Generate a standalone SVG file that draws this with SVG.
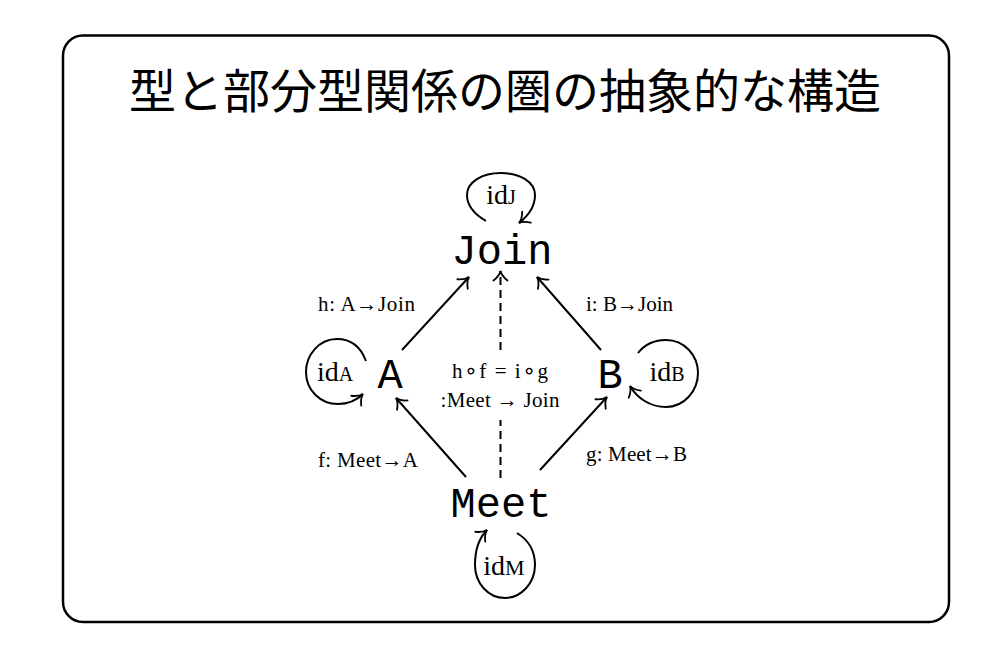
<svg xmlns="http://www.w3.org/2000/svg" width="1000" height="667" viewBox="0 0 1000 667">
<defs>
<marker id="ah" markerUnits="userSpaceOnUse" markerWidth="20" markerHeight="20" viewBox="-12 -10 14 20" refX="0" refY="0" orient="auto">
<path d="M-9.5,-7 C-6,-2.5 -2.5,-0.6 0,0 C-2.5,0.6 -6,2.5 -9.5,7" fill="none" stroke="#000" stroke-width="1.8" stroke-linecap="round"/>
</marker>
<style>
.frame{fill:#fff;stroke:#000;stroke-width:2.5}
.title{font-family:"Noto Sans CJK JP","Noto Sans CJK SC",sans-serif;font-size:47px;fill:#000}
.node{font-family:"Liberation Mono",monospace;font-size:42px;fill:#000}
.lbl{font-family:"Liberation Serif","DejaVu Serif",serif;font-size:21px;fill:#000}
.op{font-family:"DejaVu Sans",sans-serif;font-size:22px}
.id{font-family:"Liberation Serif","DejaVu Serif",serif;font-size:28px;fill:#000}
.sub{font-size:20px}
.edge{fill:none;stroke:#000;stroke-width:2;marker-end:url(#ah)}
.dash{fill:none;stroke:#000;stroke-width:2;stroke-dasharray:8 5}
</style>
</defs>
<rect class="frame" x="63" y="35.5" width="886" height="586.5" rx="20"/>
<text class="title" x="505" y="108" text-anchor="middle">型と部分型関係の圏の抽象的な構造</text>

<g id="connectors">
<path class="edge" d="M402,350 L469,277"/>
<path class="edge" d="M601,350 L537,277"/>
<path class="edge" d="M466,477 L396,398"/>
<path class="edge" d="M540,470 L607,397"/>
<path class="dash" d="M500.5,478 L500.5,420"/>
<path class="dash edge" d="M500.5,350 L500.5,271"/>
<path class="edge" d="M486,221 C474,214 467,205 467,195 C467,182 482,173 501,173 C520,173 535,182 535,195 C535,206 528,216 519,223"/>
<path class="edge" d="M366,361 C360,345 349,339 337,339 C319,339 306,355 306,372 C306,390 320,404 338,404 C349,404 357,400 363,394"/>
<path class="edge" d="M638,353 C645,344 656,340 666,340 C684,340 698,355 698,373 C698,391 684,407 666,407 C650,407 637,398 630,386"/>
<path class="edge" d="M517,533 C530,541 535,553 535,565 C535,583 521,598 505,598 C488,598 475,583 475,565 C475,549 480,537 487,530"/>
</g>

<g id="edge-labels">
<text class="lbl" x="318" y="311" textLength="97" lengthAdjust="spacing">h: A→Join</text>
<text class="lbl" x="586" y="311" textLength="87" lengthAdjust="spacing">i: B→Join</text>
<text class="lbl" x="318" y="467" textLength="100" lengthAdjust="spacing">f: Meet→A</text>
<text class="lbl" x="586" y="461" textLength="101" lengthAdjust="spacing">g: Meet→B</text>
<text class="lbl" x="500" y="378" text-anchor="middle" textLength="96" lengthAdjust="spacing">h<tspan class="op">∘</tspan>f = i<tspan class="op">∘</tspan>g</text>
<text class="lbl" x="500" y="407" text-anchor="middle" textLength="119" lengthAdjust="spacing">:Meet → Join</text>
</g>

<g id="node-join"><text class="node" x="502" y="264" text-anchor="middle">Join</text>
<text class="id" x="501" y="204" text-anchor="middle">id<tspan class="sub">J</tspan></text></g>
<g id="node-a"><text class="node" x="390" y="388" text-anchor="middle">A</text>
<text class="id" x="335" y="381" text-anchor="middle">id<tspan class="sub">A</tspan></text></g>
<g id="node-b"><text class="node" x="610" y="388" text-anchor="middle">B</text>
<text class="id" x="667" y="381" text-anchor="middle">id<tspan class="sub">B</tspan></text></g>
<g id="node-meet"><text class="node" x="501" y="517" text-anchor="middle">Meet</text>
<text class="id" x="504" y="575" text-anchor="middle">id<tspan class="sub" style="font-size:22px">M</tspan></text></g>
</svg>
